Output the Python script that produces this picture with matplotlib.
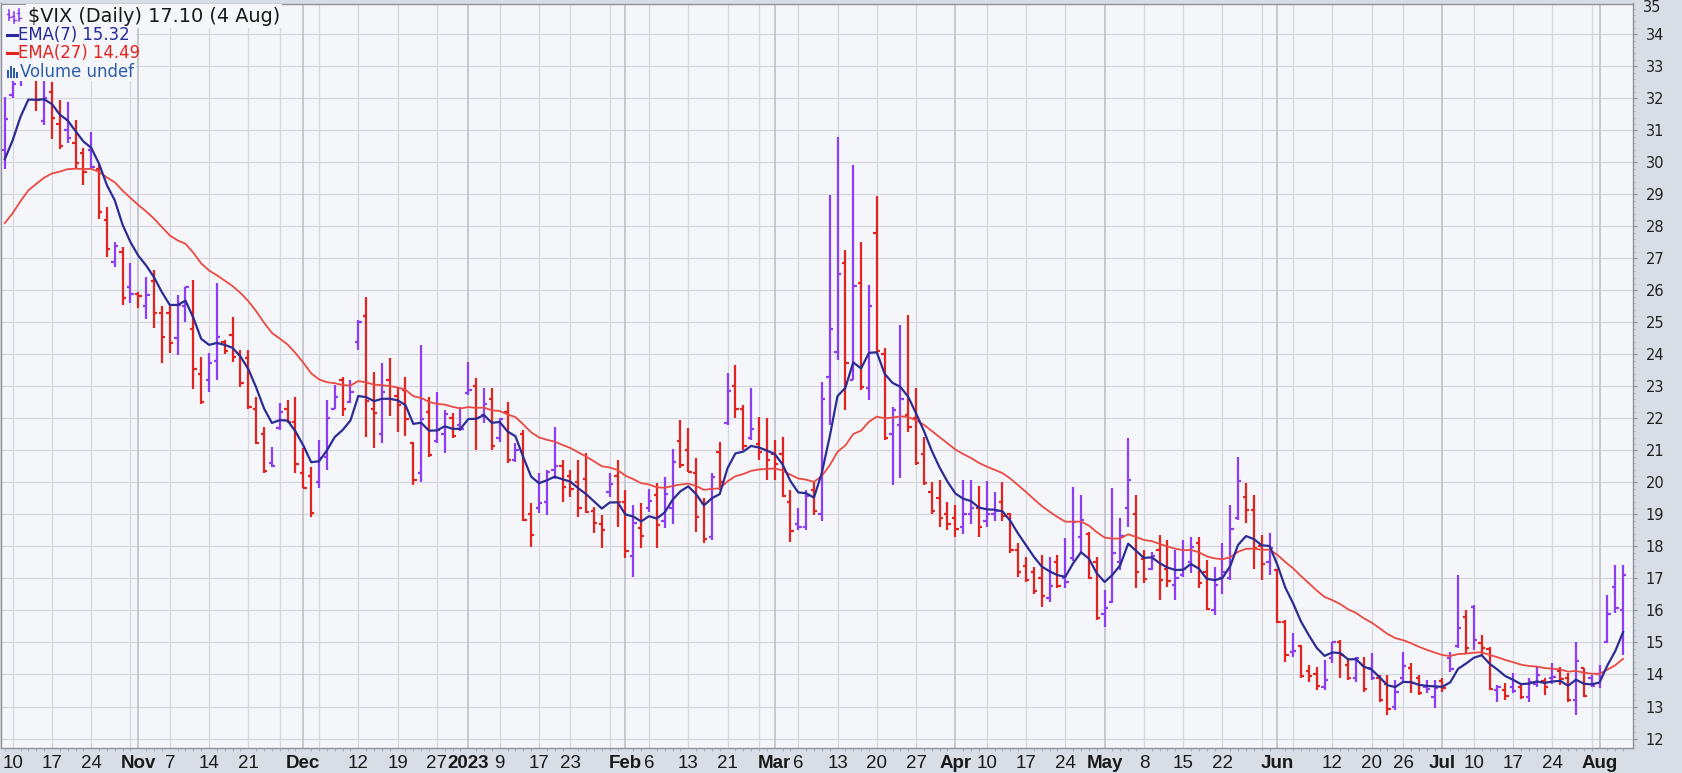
#!/usr/bin/python
"""
$VIX daily OHLC bars with EMA(7) and EMA(27), StockCharts style
"""
import numpy as np
import pandas as pd
import matplotlib
matplotlib.use('Agg')
import matplotlib.pyplot as plt
from matplotlib.lines import Line2D
from matplotlib.patches import Rectangle

first_day = '2022-10-07'
last_day = '2023-08-04'
holidays = ['2022-11-24', '2022-12-26', '2023-01-02', '2023-01-16', '2023-02-20',
            '2023-04-07', '2023-05-29', '2023-06-19', '2023-07-04']

opens = [
    # Oct
    30.4, 32.1, 32.8, 33.4, 33.6, 31.3, 32.2, 31.2, 31.0, 30.6, 30.3, 30.4, 29.8, 28.2, 26.9, 27.2, 26.1,
    # Nov
    25.9, 25.5, 26.3, 25.3, 25.3, 24.5, 25.5, 24.8, 23.4, 23.2, 23.8, 24.4, 24.6, 24.0, 23.9, 22.3, 21.5, 20.6, 21.7, 22.3, 21.9,
    # Dec
    20.3, 20.2, 20.0, 20.8, 22.3, 23.2, 22.5, 24.4, 25.2, 22.3, 21.5, 23.2, 22.7, 22.9, 21.22, 20.3, 22.2, 21.3, 21.5, 22.0, 21.8,
    # Jan
    22.8, 23.0, 22.1, 22.6, 21.4, 22.2, 20.7, 21.5, 19.0, 19.2, 19.4, 20.4, 20.5, 20.2, 20.0, 20.1, 19.1, 18.7, 19.7, 20.2,
    # Feb
    19.4, 17.7, 18.57, 19.2, 19.6, 18.8, 19.2, 21.3, 21.0, 20.3, 19.35, 18.3, 20.96, 21.85, 23.0, 22.3, 21.4, 21.2, 21.0,
    # Mar
    20.9, 20.9, 19.4, 18.7, 18.6, 19.76, 19.0, 23.3, 24.08, 26.84, 23.2, 26.22, 22.94, 27.78, 24.0, 21.5, 21.8, 22.1,
    22.0, 20.9, 19.7, 19.5, 19.0,
    # Apr
    18.9, 18.6, 19.0, 19.2, 18.8, 19.0, 19.4, 19.0, 17.9, 17.4, 17.2, 17.0, 16.4, 17.5, 17.0, 17.63, 18.3, 18.4, 17.5,
    # May
    15.9, 16.27, 17.5, 19.2, 19.0, 17.6, 17.3, 17.9, 17.3, 16.8, 17.1, 17.5, 18.1, 17.2, 16.0, 17.0, 17.0, 18.9, 19.55,
    19.14, 18.0, 17.5,
    # Jun
    17.26, 15.65, 14.7, 14.9, 14.1, 14.0, 13.6, 14.5, 15.0, 14.3, 13.9, 14.3, 14.2, 13.9, 13.7, 13.0, 13.9, 14.2, 13.9, 13.6, 13.3,
    # Jul
    13.8, 14.5, 14.9, 15.8, 16.1, 14.97, 14.8, 13.5, 13.5, 13.6, 13.6, 13.3, 13.7, 13.8, 13.9, 14.1, 13.9, 13.2, 14.2, 13.9,
    # Aug
    14.0, 15.0, 16.74, 16.0,
]
highs = [
    32.05, 33.0, 34.0, 34.2, 34.5, 32.8, 32.5, 31.95, 31.9, 31.33, 30.45, 30.95, 29.91, 28.6, 27.5, 27.36, 26.84,
    25.95, 26.43, 26.64, 25.5, 25.5, 25.85, 26.12, 26.33, 23.93, 24.03, 26.22, 24.45, 25.18, 24.13, 24.13, 22.68, 21.74,
    21.12, 22.47, 22.57, 22.68,
    21.07, 20.49, 21.33, 22.57, 23.04, 23.3, 23.2, 25.07, 25.8, 23.46, 23.72, 23.88, 22.99, 23.3, 21.27, 24.29, 22.68,
    22.83, 22.26, 22.16, 22.37,
    23.77, 23.25, 22.94, 22.94, 22.0, 22.52, 21.22, 21.64, 19.35, 20.3, 20.4, 21.74, 20.7, 20.39, 20.7, 20.91, 19.24,
    18.98, 20.28, 20.7,
    19.76, 19.3, 19.35, 19.81, 19.97, 20.18, 21.06, 21.95, 21.69, 20.75, 19.5, 20.28, 21.27, 23.41, 23.67, 22.42, 22.94,
    22.05, 22.0,
    21.33, 21.43, 19.76, 19.19, 19.76, 20.02, 23.15, 28.98, 30.8, 27.26, 29.92, 27.52, 26.17, 28.95, 24.19, 22.37, 24.92,
    25.23, 22.94, 21.43, 20.0, 20.07, 19.4,
    19.3, 20.07, 20.07, 19.9, 20.05, 19.7, 20.0, 19.03, 18.1, 17.68, 17.37, 17.73, 17.68, 17.73, 18.25, 19.87, 19.6,
    18.46, 17.68,
    16.64, 19.82, 18.88, 21.38, 19.6, 17.89, 17.84, 18.36, 18.2, 17.89, 18.2, 18.3, 18.3, 17.58, 17.37, 18.1, 19.3, 20.8,
    19.97, 19.61, 18.36, 18.41,
    17.3, 15.7, 15.29, 14.92, 14.3, 14.24, 14.45, 15.03, 15.08, 14.5, 14.56, 14.56, 14.66, 13.98, 13.98, 13.83, 14.71,
    14.35, 13.98, 13.83, 13.83,
    13.88, 14.71, 17.11, 16.0, 16.17, 15.23, 14.87, 13.67, 13.72, 14.04, 13.72, 13.9, 14.24, 13.88, 14.35, 14.24, 14.04,
    15.0, 14.2, 13.98,
    14.3, 16.48, 17.42, 17.42,
]
lows = [
    29.8, 32.0, 32.4, 32.9, 31.6, 31.16, 30.74, 30.43, 30.6, 29.8, 29.28, 29.8, 28.24, 27.05, 26.74, 25.54, 25.6,
    25.45, 25.12, 24.81, 23.72, 24.03, 23.98, 25.02, 22.93, 22.46, 22.84, 23.2, 24.0, 23.77, 22.99, 22.3, 21.2, 20.3,
    20.49, 21.64, 21.85, 20.29,
    19.82, 18.93, 19.82, 20.39, 22.3, 22.06, 22.47, 24.14, 21.43, 21.07, 21.22, 22.06, 21.59, 21.45, 19.92, 20.02, 20.8,
    21.22, 20.91, 21.4, 21.6,
    22.73, 21.01, 21.85, 21.01, 21.27, 20.6, 20.65, 18.8, 17.99, 19.05, 18.98, 20.1, 19.4, 19.55, 18.93, 19.03, 18.41,
    17.94, 19.55, 18.62,
    17.63, 17.06, 17.94, 19.09, 17.94, 18.57, 18.7, 20.44, 20.34, 18.46, 18.1, 18.2, 19.76, 21.8, 22.0, 21.01, 21.33,
    20.7, 20.08,
    20.08, 19.55, 18.15, 18.51, 18.51, 18.98, 18.8, 21.8, 23.82, 22.26, 23.2, 22.9, 22.58, 24.0, 21.33, 19.92, 20.13,
    21.59, 20.55, 19.92, 19.0, 18.6, 18.5,
    18.3, 18.4, 18.7, 18.3, 18.6, 18.8, 18.8, 17.78, 17.06, 16.9, 16.53, 16.12, 16.28, 16.7, 16.69, 17.55, 17.78, 16.98,
    15.7,
    15.49, 16.22, 17.27, 18.62, 16.69, 16.85, 17.27, 16.33, 16.74, 16.33, 17.06, 17.16, 16.69, 16.02, 15.86, 16.5, 16.95,
    18.83, 18.72, 17.31, 16.95, 17.1,
    15.6, 14.4, 14.55, 13.9, 13.78, 13.51, 13.51, 14.35, 13.88, 13.83, 13.78, 13.46, 13.83, 13.15, 12.73, 12.89, 13.78,
    13.41, 13.36, 13.41, 12.94,
    13.46, 14.09, 14.82, 14.66, 14.76, 14.6, 13.51, 13.15, 13.2, 13.41, 13.25, 13.15, 13.62, 13.36, 13.7, 13.67, 13.15,
    12.73, 13.3, 13.62,
    13.57, 14.97, 15.91, 14.6,
]
closes = [
    31.36, 32.45, 33.63, 33.57, 31.94, 32.02, 31.37, 30.50, 30.76, 29.98, 29.69, 29.85, 28.46, 27.28, 27.39, 25.75, 25.88,
    25.81, 25.86, 25.30, 24.55, 24.35, 25.54, 26.09, 23.53, 22.52, 23.73, 24.54, 24.11, 23.93, 23.12, 22.36, 21.24, 20.35,
    20.50, 22.21, 21.89, 20.58,
    19.84, 19.06, 20.75, 22.01, 22.68, 22.29, 22.83, 25.00, 22.55, 22.17, 22.83, 22.62, 22.42, 21.97, 20.07, 21.97, 20.87,
    21.65, 22.14, 21.44, 21.67,
    22.90, 22.01, 22.46, 21.13, 21.97, 20.70, 21.00, 18.83, 18.35, 19.36, 20.34, 20.52, 19.85, 19.81, 19.20, 19.08, 18.73,
    18.51, 19.94, 19.40,
    17.87, 18.73, 18.33, 19.43, 18.66, 19.63, 20.63, 20.53, 20.34, 18.91, 18.23, 20.17, 20.02, 22.87, 22.29, 21.14, 21.67,
    20.95, 20.70,
    20.58, 19.59, 18.49, 18.61, 19.59, 19.11, 22.61, 24.80, 26.52, 23.73, 26.14, 22.99, 25.51, 24.12, 21.38, 22.26, 22.61,
    21.74, 20.60, 19.97, 19.12, 18.90, 18.70,
    18.55, 19.00, 19.20, 18.60, 19.00, 19.10, 18.95, 17.90, 17.20, 16.95, 16.60, 16.46, 16.77, 16.75, 16.89, 18.76, 18.84,
    17.03, 15.78,
    16.08, 17.78, 18.34, 20.09, 17.19, 16.98, 17.71, 16.94, 16.93, 17.03, 17.30, 17.99, 16.87, 16.05, 16.81, 17.21, 18.53,
    20.03, 19.14, 17.95, 17.46, 17.94,
    15.65, 14.60, 14.73, 13.96, 13.94, 13.65, 13.83, 15.01, 14.61, 13.88, 14.50, 13.54, 13.88, 13.20, 12.91, 13.44, 14.25,
    13.74, 13.43, 13.54, 13.59,
    13.57, 14.18, 15.44, 14.83, 15.07, 14.84, 13.54, 13.61, 13.34, 13.48, 13.30, 13.76, 13.99, 13.60, 13.91, 13.86, 13.19,
    14.41, 13.33, 13.63,
    13.93, 15.88, 16.07, 17.10,
]

# EMA values carried in from before the first bar
ema7_start = 30.1
ema27_start = 28.1

tick_dates = ['2022-10-10', '2022-10-17', '2022-10-24', '2022-11-01', '2022-11-07', '2022-11-14', '2022-11-21',
              '2022-12-01', '2022-12-12', '2022-12-19', '2022-12-27', '2023-01-03', '2023-01-09', '2023-01-17',
              '2023-01-23', '2023-02-01', '2023-02-06', '2023-02-13', '2023-02-21', '2023-03-01', '2023-03-06',
              '2023-03-13', '2023-03-20', '2023-03-27', '2023-04-03', '2023-04-10', '2023-04-17', '2023-04-24',
              '2023-05-01', '2023-05-08', '2023-05-15', '2023-05-22', '2023-06-01', '2023-06-12', '2023-06-20',
              '2023-06-26', '2023-07-03', '2023-07-10', '2023-07-17', '2023-07-24', '2023-08-01']
tick_labels = ['10', '17', '24', 'Nov', '7', '14', '21', 'Dec', '12', '19', '27', '2023', '9', '17', '23',
               'Feb', '6', '13', '21', 'Mar', '6', '13', '20', '27', 'Apr', '10', '17', '24', 'May', '8', '15',
               '22', 'Jun', '12', '20', '26', 'Jul', '10', '17', '24', 'Aug']
bold_labels = ['Nov', 'Dec', '2023', 'Feb', 'Mar', 'Apr', 'May', 'Jun', 'Jul', 'Aug']

UP = '#8d3ef2'
DOWN = '#e3231f'
EMA7_C = '#2c2c92'
EMA27_C = '#ea4a42'
PLOT_BG = '#f5f6fa'
FIG_BG = '#d9dde6'
GRID = '#d4d7df'


def ema(values, span, start):
    k = 2.0 / (span + 1)
    out = [start]
    for v in values[1:]:
        out.append(out[-1] + k * (v - out[-1]))
    return np.array(out)


def main():
    W, H = 1683, 773
    days = pd.bdate_range(first_day, last_day)
    days = days[~days.isin(pd.to_datetime(holidays))]
    assert len(days) == len(closes) == len(opens) == len(highs) == len(lows)

    x = np.arange(len(days))
    c = np.array(closes)
    up = np.r_[True, c[1:] >= c[:-1]]
    cols = [UP if u else DOWN for u in up]

    ema7 = ema(closes, 7, ema7_start)
    ema27 = ema(closes, 27, ema27_start)

    fig = plt.figure(figsize=(W / 100, H / 100), dpi=100)
    fig.patch.set_facecolor(FIG_BG)
    ax = fig.add_axes([1.5 / W, (H - 747.7) / H, (1633.3 - 1.5) / W, (747.7 - 3.5) / H])
    ax.set_facecolor(PLOT_BG)

    ax.set_xlim(-0.42, 207.3)
    ax.set_ylim(11.713, 34.962)

    # grid: horizontal each point, vertical each week, darker at month starts
    for v in range(12, 35):
        ax.axhline(v, color=GRID, lw=0.9, zorder=0)
    wk = pd.Series(x, index=days)
    iso = days.isocalendar()
    week_starts = wk.groupby([iso.year.values, iso.week.values]).min().values
    month_starts = wk.groupby([days.year, days.month]).min().values
    for p in week_starts:
        if p not in month_starts and p > 0:
            ax.axvline(p, color=GRID, lw=0.9, zorder=0)
    for p in month_starts[1:]:
        ax.axvline(p, color='#b8bcc6', lw=1.1, zorder=0)

    # OHLC bars
    ax.vlines(x, lows, highs, colors=cols, lw=1.6, zorder=2)
    ax.hlines(opens, x - 0.42, x, colors=cols, lw=1.6, zorder=2)
    ax.hlines(closes, x, x + 0.42, colors=cols, lw=1.6, zorder=2)

    ax.plot(x, ema27, color=EMA27_C, lw=1.3, zorder=3)
    ax.plot(x, ema7, color=EMA7_C, lw=1.6, zorder=3)

    # axes styling
    for s in ax.spines.values():
        s.set_color('#8e929b')
        s.set_linewidth(1.0)
    ax.yaxis.tick_right()
    ax.set_yticks(range(12, 35))
    ax.set_yticks(np.arange(11.8, 35, 0.2), minor=True)
    ax.tick_params(axis='y', which='major', length=3, color='#8e929b', pad=6,
                   labelsize=10.5, labelcolor='#222222')
    ax.tick_params(axis='y', which='minor', length=1.5, color='#a4a8b0')

    pos = [days.get_loc(pd.Timestamp(d)) for d in tick_dates]
    ax.set_xticks(pos)
    ax.set_xticklabels(tick_labels)
    ax.set_xticks(x, minor=True)
    ax.tick_params(axis='x', which='major', length=0, pad=5, labelsize=13.5, labelcolor='#1a1a1a')
    ax.tick_params(axis='x', which='minor', length=2, color='#a4a8b0')
    for t in ax.get_xticklabels():
        t.set_family(['Liberation Sans Narrow', 'Liberation Sans', 'DejaVu Sans'])
        if t.get_text() in bold_labels:
            t.set_fontweight('bold')

    # top label of the price scale, sitting at the upper edge
    fig.text(1643 / W, 1.0, '35', fontsize=10.5, color='#222222', va='top', ha='left')

    # legend block, top left, on a plain background that hides the bars under it
    def fy(y):
        return 1 - y / H
    fig.add_artist(Rectangle((2.6, H - 81), 133.5, 76.5, transform=None, facecolor=PLOT_BG, edgecolor='none'))
    box = dict(facecolor=PLOT_BG, edgecolor='none', pad=1.5)
    fig.text(28 / W, fy(16), '$VIX (Daily) 17.10 (4 Aug)', fontsize=13.9, color='#1a1a1a',
             va='center', ha='left', bbox=box)
    fig.text(18 / W, fy(34.5), 'EMA(7) 15.32', fontsize=11.9, color='#27289a', va='center', ha='left')
    fig.text(18 / W, fy(53), 'EMA(27) 14.49', fontsize=11.9, color='#e4231f', va='center', ha='left')
    fig.text(20 / W, fy(72), 'Volume undef', fontsize=11.9, color='#2d5da6', va='center', ha='left')

    # small glyphs in front of the legend lines
    fig.add_artist(Line2D([7, 17], [H - 34.5, H - 34.5], transform=None, color='#27289a', lw=2.2))
    fig.add_artist(Line2D([7, 17], [H - 53, H - 53], transform=None, color='#e4231f', lw=2.2))
    for gx, y0, y1, gc in [(9, 10, 20, UP), (14, 12, 23, UP), (19, 9, 21, UP)]:
        fig.add_artist(Line2D([gx, gx], [H - y1, H - y0], transform=None, color=gc, lw=1.2))
        fig.add_artist(Line2D([gx - 2, gx], [H - y0 - 4, H - y0 - 4], transform=None, color=gc, lw=1.0))
        fig.add_artist(Line2D([gx, gx + 2], [H - y1 + 3, H - y1 + 3], transform=None, color=gc, lw=1.0))
    for bx, bh in [(7, 8), (10, 12), (13, 10), (16, 6)]:
        fig.add_artist(Rectangle((bx, H - 78), 2.2, bh, transform=None, facecolor='#2d5da6', edgecolor='none'))

    fig.savefig('out.png', dpi=100, facecolor=fig.get_facecolor())


if __name__ == '__main__':
    main()
